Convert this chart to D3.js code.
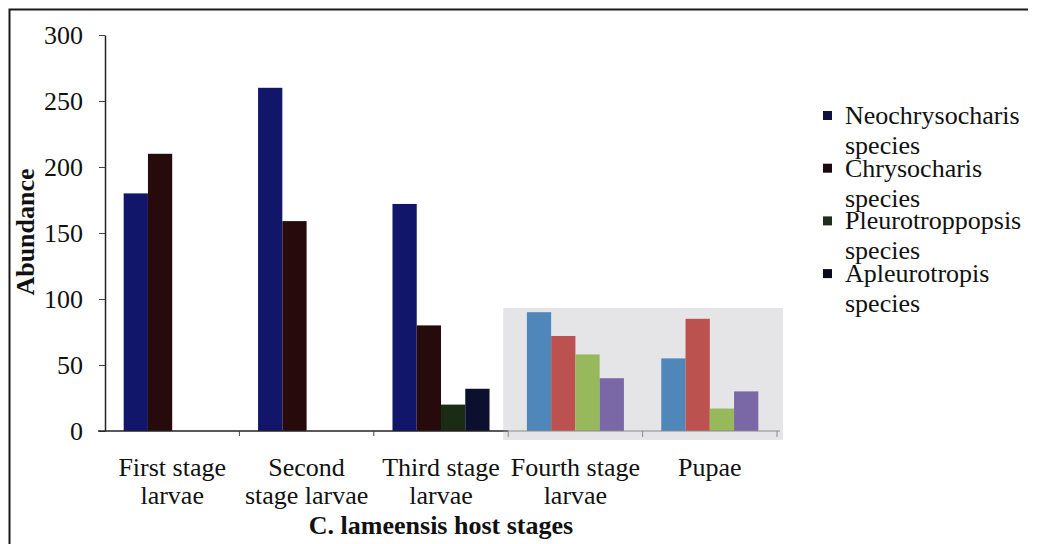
<!DOCTYPE html>
<html>
<head>
<meta charset="utf-8">
<script src="https://cdn.jsdelivr.net/npm/d3@7"></script>
</head>
<body style="margin:0">
<svg id="chart" width="1040" height="544"></svg>
<script>
// ---------------- data ----------------
const categories = ["First stage larvae", "Second stage larvae", "Third stage larvae", "Fourth stage larvae", "Pupae"];
const categoryLabelLines = [["First stage", "larvae"], ["Second", "stage larvae"], ["Third stage", "larvae"], ["Fourth stage", "larvae"], ["Pupae"]];
const insetCategories = ["Fourth stage larvae", "Pupae"];
const seriesNames = ["Neochrysocharis species", "Chrysocharis species", "Pleurotroppopsis species", "Apleurotropis species"];
const legendLines = [["Neochrysocharis", "species"], ["Chrysocharis", "species"], ["Pleurotroppopsis", "species"], ["Apleurotropis", "species"]];
const neochrysocharis = [180, 260, 172, 90, 55];
const chrysocharis = [210, 159, 80, 72, 85];
const pleurotroppopsis = [0, 0, 20, 58, 17];
const apleurotropis = [0, 0, 32, 40, 30];
const yTicks = [0, 50, 100, 150, 200, 250, 300];
const darkColors = ["#11166a", "#260a0c", "#1b2c14", "#0c0f2e"];
const legendColors = ["#0e1240", "#1e0810", "#1f2e1a", "#0a0c1c"];
const lightColors = ["#4f87bb", "#bb524f", "#98b85c", "#7a67a6"];
const seriesValues = [neochrysocharis, chrysocharis, pleurotroppopsis, apleurotropis];

const FONT = '"Liberation Serif", "Times New Roman", Tinos, FreeSerif, "Noto Serif CJK SC"';

function styleText(sel, size, bold) {
  sel.style("font-family", FONT).attr("font-size", size).attr("fill", "#111");
  if (bold) sel.attr("font-weight", "bold");
  return sel;
}

// ---------------- layout ----------------
const svg = d3.select("#chart");
const x = d3.scaleBand().domain(categories).range([105, 777]).paddingInner(0).paddingOuter(0);
const xs = d3.scaleBand().domain(seriesNames).range([0, x.bandwidth()]).paddingInner(0).paddingOuter(0.77);
const y = d3.scaleLinear().domain([0, 300]).range([431, 35]);

// outer frame (left and top edges)
svg.append("path")
  .attr("d", "M9.5,544 L9.5,9.5 L1028,9.5")
  .attr("fill", "none").attr("stroke", "#1a1a1a").attr("stroke-width", 2);

// inset gray panel behind the last two categories
const insetX0 = x(insetCategories[0]) - 5;
const insetX1 = x(insetCategories[1]) + x.bandwidth() + 6;
svg.append("rect")
  .attr("x", insetX0).attr("y", 308)
  .attr("width", insetX1 - insetX0).attr("height", 132)
  .attr("fill", "#e5e5e7");

// bars
const rows = [];
categories.forEach((c, i) => {
  seriesNames.forEach((s, j) => {
    rows.push({ c, s, v: seriesValues[j][i], j, inset: insetCategories.includes(c) });
  });
});
svg.append("g").selectAll("rect").data(rows).join("rect")
  .attr("x", d => x(d.c) + xs(d.s))
  .attr("y", d => y(d.v))
  .attr("width", xs.bandwidth())
  .attr("height", d => y(0) - y(d.v))
  .attr("fill", d => d.inset ? lightColors[d.j] : darkColors[d.j]);

// y axis
const yAxis = svg.append("g").attr("transform", "translate(105,0)")
  .call(d3.axisLeft(y).tickValues(yTicks).tickSize(6).tickSizeOuter(0).tickPadding(16));
yAxis.attr("font-family", null).attr("font-size", null);
yAxis.select(".domain").attr("stroke", "#222").attr("stroke-width", 1.5);
yAxis.selectAll(".tick line").attr("stroke", "#444");
styleText(yAxis.selectAll(".tick text"), 26);

// x axis (main part)
svg.append("line")
  .attr("x1", 98).attr("x2", x(insetCategories[0])).attr("y1", y(0)).attr("y2", y(0))
  .attr("stroke", "#222").attr("stroke-width", 1.5);
svg.append("g").selectAll("line").data(categories.slice(1, 3)).join("line")
  .attr("x1", d => x(d)).attr("x2", d => x(d))
  .attr("y1", y(0)).attr("y2", y(0) + 5)
  .attr("stroke", "#444");

// x axis (inset part)
svg.append("line")
  .attr("x1", insetX0).attr("x2", insetX1 - 3).attr("y1", y(0)).attr("y2", y(0))
  .attr("stroke", "#8a8a8a").attr("stroke-width", 1);
const insetTicks = [x(insetCategories[0]), x(insetCategories[1]), x(insetCategories[1]) + x.bandwidth()];
svg.append("g").selectAll("line").data(insetTicks).join("line")
  .attr("x1", d => d).attr("x2", d => d)
  .attr("y1", y(0)).attr("y2", y(0) + 6)
  .attr("stroke", "#8a8a8a");

// category labels
categories.forEach((c, i) => {
  categoryLabelLines[i].forEach((ln, k) => {
    styleText(svg.append("text"), 26)
      .attr("x", x(c) + x.bandwidth() / 2)
      .attr("y", 476 + k * 28)
      .attr("text-anchor", "middle")
      .text(ln);
  });
});

// axis titles
styleText(svg.append("text"), 26, true)
  .attr("x", 441).attr("y", 534)
  .attr("text-anchor", "middle")
  .text("C. lameensis host stages");
styleText(svg.append("text"), 26, true)
  .attr("transform", "translate(34,232) rotate(-90)")
  .attr("text-anchor", "middle")
  .text("Abundance");

// legend
seriesNames.forEach((s, j) => {
  const baseY = 124 + j * 52.7;
  svg.append("rect")
    .attr("x", 823).attr("y", baseY - 13).attr("width", 9).attr("height", 9)
    .attr("fill", legendColors[j]);
  legendLines[j].forEach((ln, k) => {
    styleText(svg.append("text"), 26)
      .attr("x", 845).attr("y", baseY + k * 30)
      .text(ln);
  });
});
</script>
</body>
</html>
